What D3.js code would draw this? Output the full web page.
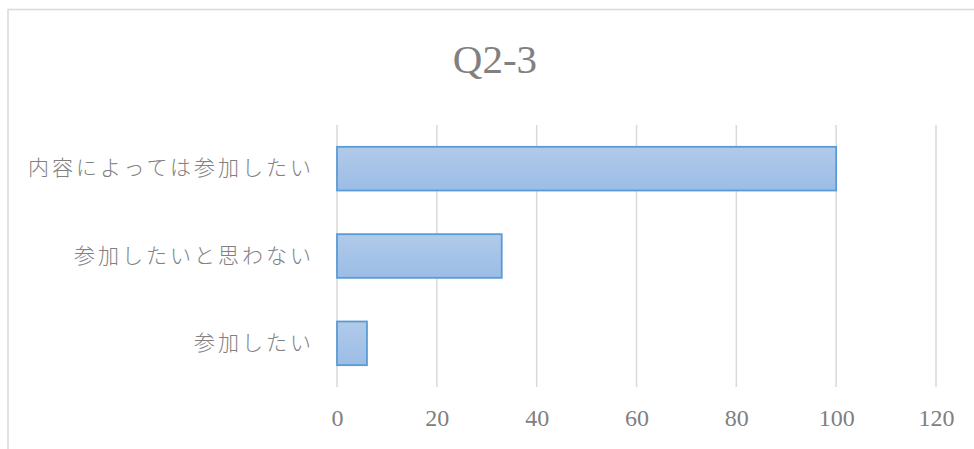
<!DOCTYPE html>
<html>
<head>
<meta charset="utf-8">
<script src="https://cdn.jsdelivr.net/npm/d3@7"></script>
<style>
  html, body { margin: 0; padding: 0; background: #fff; }
  svg { display: block; }
</style>
</head>
<body>
<svg id="chart" width="974" height="449"></svg>
<script>
// Survey answers for Q2-3 and their counts
const categories = ["内容によっては参加したい", "参加したいと思わない", "参加したい"];
const counts = [100, 33, 6];
const tickValues = [0, 20, 40, 60, 80, 100, 120];
const chartTitle = "Q2-3";

const svg = d3.select("#chart");
const W = 974, H = 449;
const margin = { top: 125, right: 38, bottom: 62, left: 337 };

// Chart area frame (continues past the right and bottom edges)
svg.append("rect")
  .attr("x", 8).attr("y", 9.5)
  .attr("width", W + 20).attr("height", H + 20)
  .attr("fill", "#fff")
  .attr("stroke", "#d9d9d9").attr("stroke-width", 1.5);

// Bar fill gradient
const defs = svg.append("defs");
const grad = defs.append("linearGradient")
  .attr("id", "barFill").attr("x1", 0).attr("y1", 0).attr("x2", 0).attr("y2", 1);
grad.append("stop").attr("offset", "0%").attr("stop-color", "#b1cae9");
grad.append("stop").attr("offset", "100%").attr("stop-color", "#9bbde6");

const x = d3.scaleLinear().domain([0, 120]).range([margin.left, 936]);
const y = d3.scaleBand().domain(categories)
  .range([margin.top, 387]).paddingInner(0.5).paddingOuter(0.25);

// Vertical gridlines
svg.append("g").selectAll("line")
  .data(tickValues)
  .join("line")
  .attr("x1", d => x(d)).attr("x2", d => x(d))
  .attr("y1", margin.top).attr("y2", 387)
  .attr("stroke", "#d9d9d9").attr("stroke-width", 1.5);

// Bars
svg.append("g").selectAll("rect")
  .data(categories.map((c, i) => ({ c, v: counts[i] })))
  .join("rect")
  .attr("x", x(0))
  .attr("y", d => y(d.c))
  .attr("width", d => x(d.v) - x(0))
  .attr("height", y.bandwidth())
  .attr("fill", "url(#barFill)")
  .attr("stroke", "#5b9bd5").attr("stroke-width", 1.8);

// Value axis labels
const xAxis = d3.axisBottom(x).tickValues(tickValues).tickSize(0).tickPadding(0);
const gx = svg.append("g").attr("transform", "translate(0,418)").call(xAxis);
gx.select(".domain").remove();
gx.selectAll("text")
  .attr("dy", "0.35em")
  .attr("fill", "#808080")
  .style("font-family", "'Liberation Serif', 'DejaVu Serif', serif")
  .style("font-size", "24px");

// Category axis labels
const yAxis = d3.axisLeft(y).tickSize(0).tickPadding(0);
const gy = svg.append("g").attr("transform", "translate(314,0)").call(yAxis);
gy.select(".domain").remove();
gy.selectAll("text")
  .attr("fill", "#808080")
  .style("font-family", "'Noto Sans CJK JP', sans-serif")
  .style("font-weight", "300")
  .style("font-size", "21px")
  .style("letter-spacing", "3px");

// Title
svg.append("text")
  .attr("x", 495).attr("y", 73)
  .attr("text-anchor", "middle")
  .attr("fill", "#808080")
  .style("font-family", "'Liberation Serif', 'DejaVu Serif', serif")
  .style("font-size", "41px")
  .text(chartTitle);
</script>
</body>
</html>
